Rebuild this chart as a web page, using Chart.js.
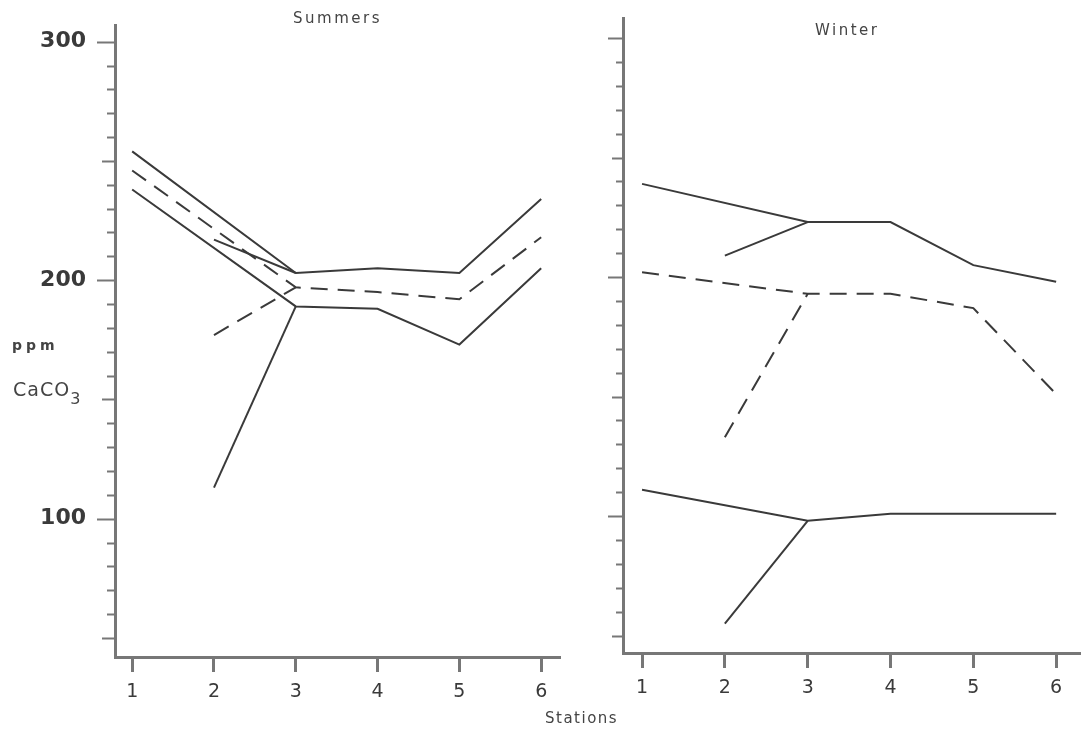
<!DOCTYPE html>
<html>
<head>
<meta charset="utf-8">
<script src="https://cdn.jsdelivr.net/npm/chart.js@4/dist/chart.umd.min.js"></script>
<style>
  html, body { margin: 0; padding: 0; background: #fff; }
  body { position: relative; width: 1081px; height: 735px; overflow: hidden; font-family: "DejaVu Sans", sans-serif; }
  canvas { position: absolute; top: 0; }
  #summerCanvas { left: 0; }
  #winterCanvas { left: 575px; }
  .label { position: absolute; color: #444; white-space: nowrap; }
  .panel-title { font-size: 15px; letter-spacing: 2.5px; color: #444; }
</style>
</head>
<body>
<canvas id="summerCanvas" width="575" height="735"></canvas>
<canvas id="winterCanvas" width="506" height="735"></canvas>

<div class="label panel-title" style="left:293px; top:9px;">Summers</div>
<div class="label panel-title" style="left:815px; top:21px;">Winter</div>
<div class="label" style="left:545px; top:709px; font-size:15px; letter-spacing:1.5px; color:#444;">Stations</div>
<div class="label" style="left:12px; top:337px; font-size:14px; letter-spacing:4px; font-weight:bold; color:#444;">ppm</div>
<div class="label" style="left:13px; top:378px; font-size:19px; letter-spacing:1px; color:#444;">CaCO<sub style="font-size:16px; vertical-align:-8px;">3</sub></div>

<script>
// stations along the river
const stations = [1, 2, 3, 4, 5, 6];

// y axis labels (ppm CaCO3)
const yTickLabels = [100, 200, 300];

// summer: upper / mean / lower lines, plus the branch that starts at station 2
const summerUpper = [254, null, 203, 205, 203, 234];
const summerUpperBranch = [null, 217, 203, null, null, null];
const summerMean = [246, null, 197, 195, 192, 218];
const summerMeanBranch = [null, 177, 197, null, null, null];
const summerLower = [238, null, 189, 188, 173, 205];
const summerLowerBranch = [null, 113, 189, null, null, null];

// winter
const winterUpper = [239, null, 223, 223, 205, 198];
const winterUpperBranch = [null, 209, 223, null, null, null];
const winterMean = [202, null, 193, 193, 187, 151];
const winterMeanBranch = [null, 133, 193, null, null, null];
const winterLower = [111, null, 98, 101, 101, 101];
const winterLowerBranch = [null, 55, 98, null, null, null];

const lineColor = "#3a3a3a";
const axisColor = "#777";
const dash = [17, 10];

function points(values) {
  return values.map((v, i) => ({ x: stations[i], y: v }));
}

function series(values, dashed) {
  return {
    data: points(values),
    borderColor: lineColor,
    borderWidth: 2,
    borderDash: dashed ? dash : [],
    pointRadius: 0,
    tension: 0,
    spanGaps: true,
    fill: false,
  };
}

// minor / medium / major tick marks on the y axis
function yTickMarks(lengths) {
  return {
    id: "yTickMarks",
    afterDraw(chart) {
      const scale = chart.scales.y;
      const ctx = chart.ctx;
      const x = scale.right;
      ctx.save();
      ctx.strokeStyle = axisColor;
      ctx.lineWidth = 2;
      for (let v = Math.ceil(scale.min / 10) * 10; v <= scale.max; v += 10) {
        const y = Math.round(scale.getPixelForValue(v)) + 0.5;
        const len = v % 100 === 0 ? lengths[0] : (v % 50 === 0 ? lengths[1] : lengths[2]);
        ctx.beginPath();
        ctx.moveTo(x - len, y);
        ctx.lineTo(x, y);
        ctx.stroke();
      }
      ctx.restore();
    },
  };
}

function makeChart(id, datasets, opts) {
  return new Chart(document.getElementById(id), {
    type: "line",
    data: { datasets },
    options: {
      responsive: false,
      animation: false,
      devicePixelRatio: 1,
      layout: { padding: { top: opts.top, right: opts.right, left: 0, bottom: 0 } },
      plugins: { legend: { display: false }, tooltip: { enabled: false }, title: { display: false } },
      scales: {
        x: {
          type: "linear",
          min: opts.xMin,
          max: opts.xMax,
          afterFit: scale => {
            scale.height = opts.xHeight;
            scale.paddingLeft = 0;
            scale.paddingRight = 0;
          },
          border: { display: true, color: axisColor, width: 3 },
          grid: { drawOnChartArea: false, drawTicks: true, tickLength: 15, tickWidth: 3, tickColor: axisColor },
          ticks: {
            stepSize: 1,
            includeBounds: false,
            padding: 9,
            color: "#3a3a3a",
            font: { family: "DejaVu Sans", size: 19 },
            callback: v => Number.isInteger(v) ? String(v) : "",
          },
        },
        y: {
          type: "linear",
          min: opts.yMin,
          max: opts.yMax,
          afterFit: scale => {
            scale.width = opts.yWidth;
            // labels sit well inside the range, so no extra room is needed at the ends
            scale.paddingTop = 0;
            scale.paddingBottom = 0;
          },
          afterBuildTicks: scale => {
            scale.ticks = yTickLabels.map(v => ({ value: v }));
          },
          border: { display: true, color: axisColor, width: 3 },
          grid: { drawOnChartArea: false, drawTicks: false },
          ticks: {
            display: opts.showYLabels,
            padding: 29,
            color: "#3a3a3a",
            font: { family: "DejaVu Sans", size: 22, weight: "bold" },
            callback: v => String(v),
          },
        },
      },
    },
    plugins: [ yTickMarks(opts.tickLengths) ],
  });
}

makeChart("summerCanvas", [
  series(summerUpper, false),
  series(summerUpperBranch, false),
  series(summerMean, true),
  series(summerMeanBranch, true),
  series(summerLower, false),
  series(summerLowerBranch, false),
], {
  top: 25, right: 15, xHeight: 78, yWidth: 115,
  xMin: 0.79, xMax: 6.23, yMin: 42, yMax: 307,
  showYLabels: true, tickLengths: [18, 13, 8],
});

makeChart("winterCanvas", [
  series(winterUpper, false),
  series(winterUpperBranch, false),
  series(winterMean, true),
  series(winterMeanBranch, true),
  series(winterLower, false),
  series(winterLowerBranch, false),
], {
  top: 18, right: 0, xHeight: 82, yWidth: 48,
  xMin: 0.77, xMax: 6.30, yMin: 42.7, yMax: 308.4,
  showYLabels: false, tickLengths: [15, 11, 7],
});
</script>
</body>
</html>
